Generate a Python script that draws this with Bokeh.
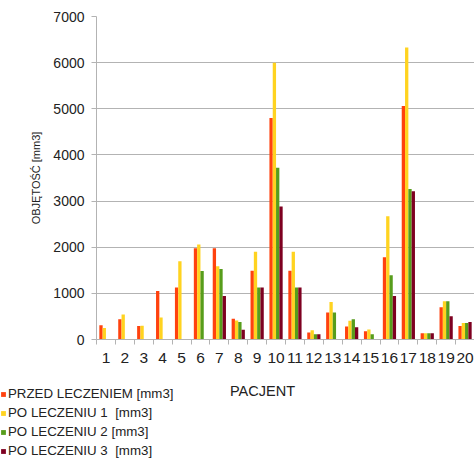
from bokeh.plotting import figure
from bokeh.layouts import column, row
from bokeh.models import ColumnDataSource, FixedTicker, Legend, LegendItem, Range1d, Label
from bokeh.transform import dodge
from bokeh.embed import file_html
from bokeh.resources import INLINE

patients = list(range(1, 21))
tick_labels = [str(i) for i in patients]
przed = [310, 440, 290, 1050, 1125, 1980, 1980, 450, 1490, 4800, 1490, 150, 585, 280, 180, 1780, 5060, 137, 700, 295]
po1 = [250, 540, 300, 475, 1695, 2060, 1590, 410, 1900, 6000, 1900, 200, 810, 405, 215, 2670, 6330, 137, 830, 360]
po2 = [0, 0, 0, 0, 0, 1485, 1530, 380, 1125, 3720, 1125, 115, 585, 440, 115, 1390, 3260, 137, 830, 360]
po3 = [0, 0, 0, 0, 0, 0, 945, 210, 1125, 2885, 1125, 115, 0, 265, 0, 945, 3215, 137, 505, 380]
series_names = ["PRZED LECZENIEM [mm3]", "PO LECZENIU 1  [mm3]", "PO LECZENIU 2 [mm3]", "PO LECZENIU 3  [mm3]"]
x_title = "PACJENT"
y_title = "OBJĘTOŚĆ [mm3]"
colors = ["#ff420e", "#ffd320", "#579d1c", "#7e0021"]
FONT = "Liberation Sans"
TXT = "#222222"
GRID = "#b3b3b3"

src = ColumnDataSource(dict(x=patients, a=przed, b=po1, c=po2, d=po3))

W = 474
H1 = 370
p = figure(output_backend="svg", toolbar_location=None,
           width=W, height=H1,
           min_border_left=96, min_border_top=16, min_border_bottom=31, min_border_right=0,
           x_range=Range1d(0.5, 20.5), y_range=Range1d(0, 7000))
p.outline_line_color = None

offsets = [-0.2625, -0.0875, 0.0875, 0.2625]
for col, off, c in zip(["a", "b", "c", "d"], offsets, colors):
    p.vbar(x=dodge("x", off), top=col, width=0.175, source=src,
           fill_color=c, line_color=None)

p.xgrid.visible = False
p.ygrid.grid_line_color = GRID

p.xaxis.ticker = FixedTicker(ticks=patients, minor_ticks=[i + 0.5 for i in range(0, 21)])
p.xaxis.major_label_overrides = {i: s for i, s in zip(patients, tick_labels)}
p.xaxis.major_tick_line_color = None
p.xaxis.minor_tick_line_color = GRID
p.xaxis.minor_tick_out = 5
p.xaxis.minor_tick_in = 0
p.xaxis.axis_line_color = GRID
p.xaxis.major_label_standoff = 7
p.xaxis.major_label_text_font = FONT
p.xaxis.major_label_text_font_size = "15.5px"
p.xaxis.major_label_text_color = TXT

p.yaxis.ticker = FixedTicker(ticks=list(range(0, 7001, 1000)))
p.yaxis.minor_tick_line_color = None
p.yaxis.major_tick_line_color = GRID
p.yaxis.major_tick_out = 5
p.yaxis.major_tick_in = 0
p.yaxis.axis_line_color = GRID
p.yaxis.major_label_standoff = 7
p.yaxis.major_label_text_font = FONT
p.yaxis.major_label_text_font_size = "14px"
p.yaxis.major_label_text_color = TXT
p.yaxis.axis_label = y_title
p.yaxis.axis_label_text_font = FONT
p.yaxis.axis_label_text_font_size = "11px"
p.yaxis.axis_label_text_font_style = "normal"
p.yaxis.axis_label_text_color = TXT
p.yaxis.axis_label_standoff = 8

# lower strip: legend and x-axis title
H2 = 464 - H1
p2 = figure(output_backend="svg", toolbar_location=None, width=W, height=H2,
            min_border_left=0, min_border_right=0, min_border_top=0, min_border_bottom=0,
            x_axis_location=None, y_axis_location=None,
            x_range=Range1d(0, W), y_range=Range1d(0, H2))
p2.grid.visible = False
p2.outline_line_color = None

items = []
for col, n, c in zip(["a", "b", "c", "d"], series_names, colors):
    r = p2.vbar(x="x", top=col, width=0.175, source=src, fill_color=c, line_color=None,
                visible=False)
    items.append(LegendItem(label=n, renderers=[r]))

legend = Legend(items=items, location=(0, 4), orientation="vertical",
                label_text_font=FONT, label_text_font_size="13.3px",
                label_text_color=TXT,
                glyph_width=6, glyph_height=6, label_standoff=2,
                label_height=19, spacing=0, padding=0, margin=0,
                border_line_color=None, background_fill_alpha=0)
p2.add_layout(legend, "center")

p2.add_layout(Label(x=262, y=H2 - 20, text=x_title, text_align="center",
                    text_baseline="middle", text_font=FONT, text_font_size="14.5px",
                    text_color=TXT))

layout = column(p, row(p2, spacing=0), spacing=0)
open("out.html", "w").write(file_html(layout, INLINE))
